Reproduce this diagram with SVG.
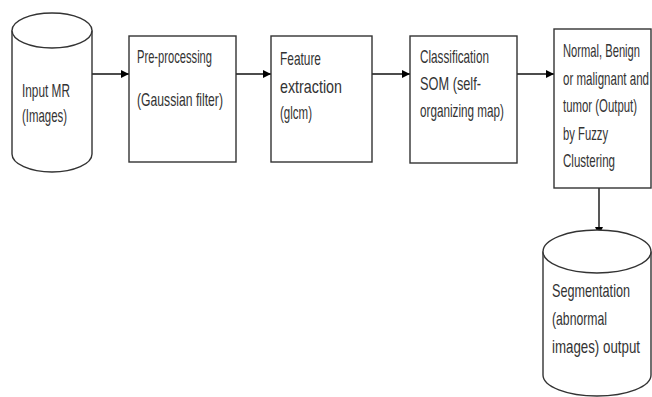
<svg xmlns="http://www.w3.org/2000/svg" width="652" height="397" viewBox="0 0 652 397">
<defs>
<marker id="ah" viewBox="0 0 10 10" refX="10" refY="5" markerWidth="8" markerHeight="8" markerUnits="userSpaceOnUse" orient="auto">
<path d="M0,0 L10,5 L0,10 z" fill="#000"/>
</marker>
</defs>
<style>
.shape{fill:#fff;stroke:#333;stroke-width:1.4}
.conn{fill:none;stroke:#111;stroke-width:1.4}
.t{font-family:"Liberation Sans",Arial,sans-serif;font-size:18px;fill:#333}
</style>
<rect width="652" height="397" fill="#fff"/>
<g id="connectors">
<line class="conn" x1="92" y1="74" x2="129" y2="74" marker-end="url(#ah)"/>
<line class="conn" x1="236" y1="74" x2="271" y2="74" marker-end="url(#ah)"/>
<line class="conn" x1="372" y1="74" x2="410" y2="74" marker-end="url(#ah)"/>
<line class="conn" x1="517" y1="74" x2="554" y2="74" marker-end="url(#ah)"/>
<line class="conn" x1="599" y1="188" x2="599" y2="235" marker-end="url(#ah)"/>
</g>
<g id="input">
<path class="shape" d="M12,30.5 L12,154 A40,18 0 0 0 92,154 L92,30.5"/>
<ellipse class="shape" cx="52" cy="30.5" rx="40" ry="17.5"/>
<text class="t" transform="translate(22,97) scale(0.62,1)" textLength="77.4" lengthAdjust="spacingAndGlyphs">Input MR</text>
<text class="t" transform="translate(22,122) scale(0.62,1)" textLength="72.6" lengthAdjust="spacingAndGlyphs">(Images)</text>
</g>
<g id="preprocessing">
<rect class="shape" x="129" y="36" width="107" height="126"/>
<text class="t" transform="translate(137,63) scale(0.62,1)" textLength="121" lengthAdjust="spacingAndGlyphs">Pre-processing</text>
<text class="t" transform="translate(137,106) scale(0.62,1)" textLength="138.7" lengthAdjust="spacingAndGlyphs">(Gaussian filter)</text>
</g>
<g id="feature">
<rect class="shape" x="271" y="36" width="101" height="126"/>
<text class="t" transform="translate(280,65) scale(0.62,1)" textLength="66.1" lengthAdjust="spacingAndGlyphs">Feature</text>
<text class="t" transform="translate(280,93) scale(0.62,1)" textLength="100" lengthAdjust="spacingAndGlyphs">extraction</text>
<text class="t" transform="translate(280,119) scale(0.62,1)" textLength="51.6" lengthAdjust="spacingAndGlyphs">(glcm)</text>
</g>
<g id="classification">
<rect class="shape" x="410" y="36" width="107" height="127"/>
<text class="t" transform="translate(420,63) scale(0.62,1)" textLength="111.3" lengthAdjust="spacingAndGlyphs">Classification</text>
<text class="t" transform="translate(420,90) scale(0.62,1)" textLength="98.4" lengthAdjust="spacingAndGlyphs">SOM (self-</text>
<text class="t" transform="translate(420,117) scale(0.62,1)" textLength="135.5" lengthAdjust="spacingAndGlyphs">organizing map)</text>
</g>
<g id="output">
<rect class="shape" x="554" y="29" width="97" height="159"/>
<text class="t" transform="translate(563,57) scale(0.62,1)" textLength="124.2" lengthAdjust="spacingAndGlyphs">Normal, Benign</text>
<text class="t" transform="translate(563,85) scale(0.62,1)" textLength="138.7" lengthAdjust="spacingAndGlyphs">or malignant and</text>
<text class="t" transform="translate(563,112) scale(0.62,1)" textLength="119.4" lengthAdjust="spacingAndGlyphs">tumor (Output)</text>
<text class="t" transform="translate(563,140) scale(0.62,1)" textLength="72.6" lengthAdjust="spacingAndGlyphs">by Fuzzy</text>
<text class="t" transform="translate(563,167) scale(0.62,1)" textLength="83.9" lengthAdjust="spacingAndGlyphs">Clustering</text>
</g>
<g id="segmentation">
<path class="shape" d="M543,251.5 L543,375 A54,21 0 0 0 651,375 L651,251.5"/>
<ellipse class="shape" cx="597" cy="251.5" rx="54" ry="21.5"/>
<text class="t" transform="translate(552,297) scale(0.62,1)" textLength="125.8" lengthAdjust="spacingAndGlyphs">Segmentation</text>
<text class="t" transform="translate(552,325) scale(0.62,1)" textLength="88.7" lengthAdjust="spacingAndGlyphs">(abnormal</text>
<text class="t" transform="translate(552,353) scale(0.62,1)" textLength="141.9" lengthAdjust="spacingAndGlyphs">images) output</text>
</g>
</svg>
